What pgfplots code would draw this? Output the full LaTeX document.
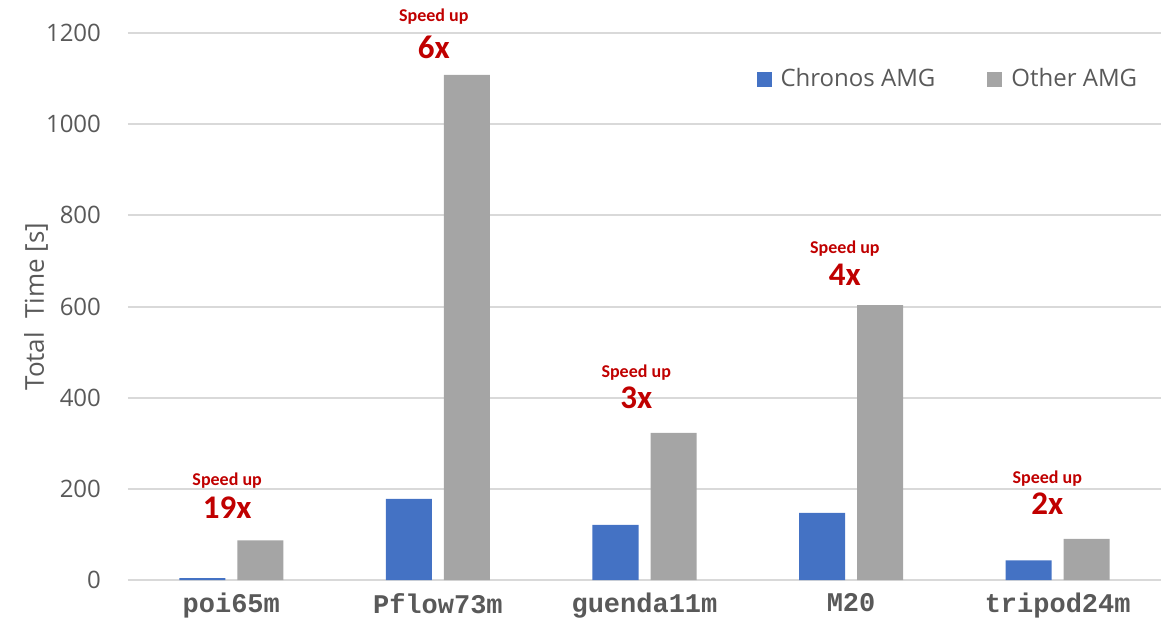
\documentclass[border=0pt]{standalone}
\usepackage{pgfplots}
\pgfplotsset{compat=1.18}
\usepackage{fontspec}
\setmainfont{Open Sans}
\newfontfamily\calib{Carlito}
\newfontfamily\cour{Liberation Mono}
\definecolor{cblue}{HTML}{4472C4}
\definecolor{cgray}{HTML}{A5A5A5}
\definecolor{cred}{HTML}{C00000}
\definecolor{cgrid}{HTML}{D9D9D9}
\definecolor{ctext}{HTML}{595959}
\begin{document}
\begin{tikzpicture}
\path[use as bounding box] (-64pt,-21.5pt) rectangle (522.5pt,290pt);
\begin{axis}[
  at={(0,0)}, anchor=south west,
  scale only axis, width=516.5pt, height=273.5pt,
  xmin=-0.5, xmax=4.5, ymin=0, ymax=1200,
  ytick={0,200,...,1200},
  xtick={0,1,2,3,4},
  xticklabels={poi65m,Pflow73m,guenda11m,M20,tripod24m},
  ybar=6pt, bar width=23pt,
  axis line style={draw=none},
  major tick length=0pt,
  ymajorgrids, grid style={cgrid, line width=1pt},
  /pgf/number format/assume math mode=true,
  /pgf/number format/1000 sep={},
  yticklabel style={font=\fontsize{12}{14}\selectfont, text=ctext, xshift=-10pt},
  xticklabel style={font=\fontsize{13.5}{15}\selectfont\cour\bfseries, text=ctext, yshift=-3pt},
  ylabel={Total\ \ Time [s]},
  ylabel style={font=\fontsize{13}{15}\selectfont, text=ctext, at={(axis description cs:-0.089,0.5)}, anchor=center},
  clip=false,
  legend columns=2,
  legend style={at={(0.987,0.95)}, anchor=north east, draw=none, fill=none,
    font=\fontsize{12}{14}\selectfont, text=ctext,
    /tikz/every odd column/.append style={column sep=2.5pt},
    /tikz/every even column/.append style={column sep=24pt}},
  legend image code/.code={\fill[#1] (0pt,-3.75pt) rectangle (7.5pt,3.75pt);},
]
\addplot[fill=cblue, draw=none] coordinates {(0,4) (1,178) (2,121) (3,147) (4,43)};
\addplot[fill=cgray, draw=none] coordinates {(0,87) (1,1108) (2,323) (3,603) (4,90)};
\legend{Chronos AMG, Other AMG}
\tikzset{su/.style={font=\fontsize{9}{10}\selectfont\calib\bfseries, text=cred},
         sx/.style={font=\fontsize{16.5}{18}\selectfont\calib\bfseries, text=cred}}
\node[su] at (axis cs:-0.02,217) {Speed up};
\node[sx] at (axis cs:-0.02,158) {19x};
\node[su] at (axis cs:0.98,1237) {Speed up};
\node[sx] at (axis cs:0.98,1169) {6x};
\node[su] at (axis cs:1.96,456) {Speed up};
\node[sx] at (axis cs:1.96,399) {3x};
\node[su] at (axis cs:2.97,726) {Speed up};
\node[sx] at (axis cs:2.97,669) {4x};
\node[su] at (axis cs:3.95,222) {Speed up};
\node[sx] at (axis cs:3.95,167) {2x};
\end{axis}
\end{tikzpicture}
\end{document}
